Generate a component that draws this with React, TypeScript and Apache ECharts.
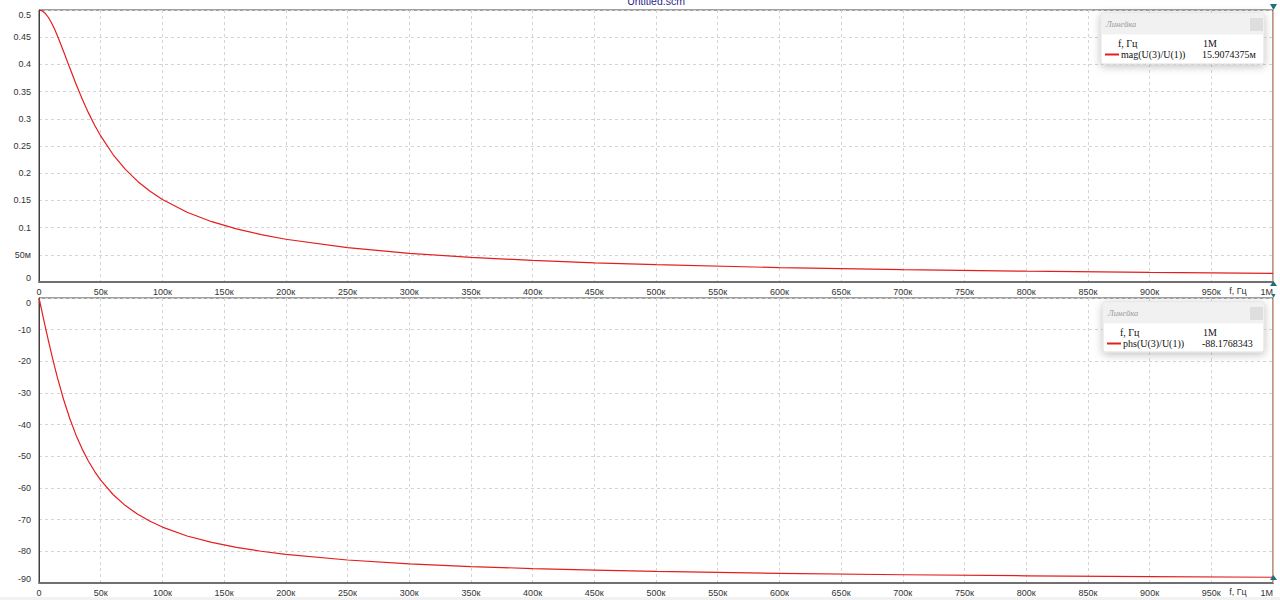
import React, { useEffect, useRef } from "react";
import * as echarts from "echarts";

// frequency points, kHz
const freqK = [0, 2.5, 5, 7.5, 10, 12.5, 15, 20, 25, 30, 35, 40, 45, 50, 60, 70, 80, 90, 100, 120, 140, 160, 180, 200, 250, 300, 350, 400, 450, 500, 600, 700, 800, 900, 1000];
// mag(U(3)/U(1))
const magValues = [0.5, 0.49847, 0.49394, 0.48667, 0.47701, 0.4654, 0.4523, 0.42337, 0.39322, 0.36387, 0.33641, 0.31134, 0.28874, 0.26851, 0.23432, 0.20697, 0.18485, 0.16672, 0.15166, 0.1282, 0.11085, 0.09756, 0.08707, 0.07859, 0.06315, 0.05276, 0.04529, 0.03966, 0.03528, 0.03177, 0.02649, 0.02271, 0.01988, 0.01767, 0.01591];
// phs(U(3)/U(1)), degrees
const phsValues = [0, -4.49, -8.93, -13.26, -17.44, -21.44, -25.23, -32.14, -38.15, -43.31, -47.72, -51.49, -54.73, -57.52, -62.05, -65.55, -68.31, -70.52, -72.34, -75.15, -77.19, -78.75, -79.97, -80.96, -82.74, -83.94, -84.8, -85.45, -85.95, -86.36, -86.96, -87.4, -87.72, -87.97, -88.18];

const title = "Untitled.scm";
const xName = "f, Гц";
const rulerTitle = "Линейка";
const magName = "mag(U(3)/U(1))";
const phsName = "phs(U(3)/U(1))";
const rulerX = "1M";
const magAtRuler = "15.9074375м";
const phsAtRuler = "-88.1768343";

const RED = "#e41e1e";
const LABEL_FONT = "Liberation Sans, Arial, sans-serif";
const SERIF = "Liberation Serif, Times New Roman, serif";

const fmtX = (v: number) => (v === 0 ? "0" : v >= 1e6 ? "1M" : Math.round(v / 1000) + "к");
const fmtMag = (v: number) => {
  const r = Math.round(v * 100) / 100;
  if (r === 0) return "0";
  if (Math.abs(r - 0.05) < 1e-9) return "50м";
  return String(r);
};

function legendBox(x: number, y: number, w: number, h: number, name: string, value: string, swX: number) {
  return {
    type: "group",
    children: [
      {
        type: "rect",
        shape: { x, y, width: w, height: h, r: 2 },
        style: { fill: "#ffffff", stroke: "#dddddd", lineWidth: 1, shadowBlur: 8, shadowColor: "rgba(0,0,0,0.25)", shadowOffsetY: 2 },
        z: 100,
      },
      { type: "rect", shape: { x: x + 0.5, y: y + 0.5, width: w - 1, height: 21 }, style: { fill: "#f1f1f1" }, z: 101 },
      { type: "rect", shape: { x: x + w - 14, y: y + 5, width: 13, height: 13 }, style: { fill: "#dedede" }, z: 102 },
      {
        type: "text",
        x: x + 5,
        y: y + 11,
        style: { text: rulerTitle, fill: "#9a9a9a", font: `italic 8.5px ${SERIF}`, verticalAlign: "middle" },
        z: 102,
      },
      {
        type: "text",
        x: swX + 13,
        y: y + 30,
        style: { text: xName, fill: "#111", font: `10px ${SERIF}`, verticalAlign: "middle" },
        z: 102,
      },
      {
        type: "text",
        x: 1203,
        y: y + 30,
        style: { text: rulerX, fill: "#111", font: `10px ${SERIF}`, verticalAlign: "middle" },
        z: 102,
      },
      {
        type: "line",
        shape: { x1: swX, y1: y + 41.5, x2: swX + 14, y2: y + 41.5 },
        style: { stroke: RED, lineWidth: 2 },
        z: 102,
      },
      {
        type: "text",
        x: swX + 16,
        y: y + 41,
        style: { text: name, fill: "#111", font: `10px ${SERIF}`, verticalAlign: "middle" },
        z: 102,
      },
      {
        type: "text",
        x: 1202,
        y: y + 41,
        style: { text: value, fill: "#111", font: `10px ${SERIF}`, verticalAlign: "middle" },
        z: 102,
      },
    ],
  };
}

function tri(cx: number, yBase: number, yTip: number, half: number) {
  return {
    type: "polygon",
    shape: { points: [[cx - half, yBase], [cx + half, yBase], [cx, yTip]] },
    style: { fill: "#1d6f7c" },
    z: 90,
  };
}

export default function App() {
  const ref = useRef<HTMLDivElement>(null);
  useEffect(() => {
    if (!ref.current) return;
    const chart = echarts.init(ref.current, undefined, { renderer: "svg" });
    const magData = freqK.map((f, i) => [f * 1000, magValues[i]]);
    const phsData = freqK.map((f, i) => [f * 1000, phsValues[i]]);

    const splitLine = { show: true, lineStyle: { color: "#d4d4d4", type: [3, 3] as any, width: 1 } };
    const xAxisBase = {
      type: "value",
      min: 0,
      max: 1000000,
      interval: 50000,
      axisTick: { show: false },
      axisLine: { show: true, onZero: false, lineStyle: { color: "#707070", width: 2 } },
      axisLabel: { formatter: fmtX, color: "#333", fontSize: 9, fontFamily: LABEL_FONT, margin: 5, alignMaxLabel: "right" },
      splitLine,
    };
    const yAxisBase = {
      type: "value",
      axisTick: { show: false },
      axisLine: { show: true, onZero: false, lineStyle: { color: "#404040", width: 1 } },
      splitLine,
    };

    chart.setOption({
      animation: false,
      backgroundColor: "#ffffff",
      grid: [
        { left: 39, width: 1234, top: 10, height: 272, show: true, borderColor: "#404040", borderWidth: 1, backgroundColor: "transparent" },
        { left: 39, width: 1234, top: 298, height: 285, show: true, borderColor: "#404040", borderWidth: 1, backgroundColor: "transparent" },
      ],
      xAxis: [
        { ...xAxisBase, gridIndex: 0 },
        { ...xAxisBase, gridIndex: 1 },
      ],
      yAxis: [
        {
          ...yAxisBase,
          gridIndex: 0,
          min: 0,
          max: 0.5,
          interval: 0.05,
          axisLabel: {
            formatter: fmtMag,
            color: "#333",
            fontSize: 9,
            fontFamily: LABEL_FONT,
            margin: 8,
            verticalAlignMinLabel: "bottom",
            verticalAlignMaxLabel: "top",
          },
        },
        {
          ...yAxisBase,
          gridIndex: 1,
          min: -90,
          max: 0,
          interval: 10,
          axisLabel: {
            color: "#333",
            fontSize: 9,
            fontFamily: LABEL_FONT,
            margin: 8,
            verticalAlignMinLabel: "bottom",
            verticalAlignMaxLabel: "top",
          },
        },
      ],
      series: [
        {
          type: "line",
          xAxisIndex: 0,
          yAxisIndex: 0,
          data: magData,
          showSymbol: false,
          smooth: false,
          lineStyle: { color: RED, width: 1.2 },
          itemStyle: { color: RED },
          clip: true,
        },
        {
          type: "line",
          xAxisIndex: 1,
          yAxisIndex: 1,
          data: phsData,
          showSymbol: false,
          smooth: false,
          lineStyle: { color: RED, width: 1.2 },
          itemStyle: { color: RED },
          clip: true,
        },
      ],
      graphic: [
        {
          type: "text",
          x: 656,
          y: 6,
          style: { text: title, fill: "#27278a", font: `10.5px ${LABEL_FONT}`, align: "center", verticalAlign: "bottom" },
          z: 50,
        },
        {
          type: "text",
          x: 1238,
          y: 291,
          style: { text: xName, fill: "#333", font: `9px ${LABEL_FONT}`, align: "center", verticalAlign: "middle", backgroundColor: "#fff" },
          z: 50,
        },
        {
          type: "text",
          x: 1238,
          y: 592,
          style: { text: xName, fill: "#333", font: `9px ${LABEL_FONT}`, align: "center", verticalAlign: "middle", backgroundColor: "#fff" },
          z: 50,
        },
        { type: "line", shape: { x1: 1273.5, y1: 10, x2: 1273.5, y2: 282 }, style: { stroke: "#f2a98c", lineWidth: 1 }, z: 80 },
        { type: "line", shape: { x1: 1273.5, y1: 298, x2: 1273.5, y2: 583 }, style: { stroke: "#f2a98c", lineWidth: 1 }, z: 80 },
        tri(1273.5, 4, 10, 3.5),
        tri(1273.5, 286, 281, 3.5),
        tri(1273.5, 294, 298, 2),
        tri(1273.5, 580, 575, 3.5),
        legendBox(1101, 13, 163, 51, magName, magAtRuler, 1105),
        legendBox(1103, 302, 161, 50, phsName, phsAtRuler, 1107),
        { type: "rect", shape: { x: 0, y: 597, width: 1280, height: 3 }, style: { fill: "#f2f2f2" }, z: 1 },
      ],
    });
    return () => chart.dispose();
  }, []);
  return <div ref={ref} style={{ position: "absolute", left: 0, top: 0, width: 1280, height: 600 }} />;
}
